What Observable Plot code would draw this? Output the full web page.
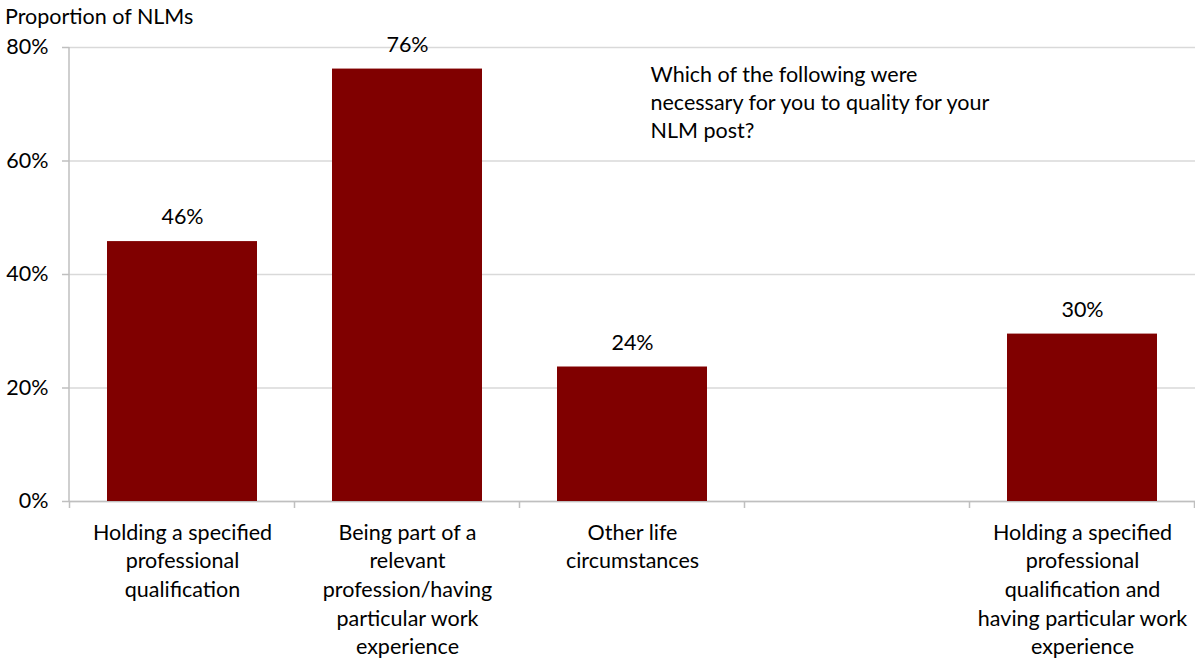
<!DOCTYPE html>
<html>
<head>
<meta charset="utf-8">
<script src="https://cdn.jsdelivr.net/npm/d3@7"></script>
<script src="https://cdn.jsdelivr.net/npm/@observablehq/plot@0.6"></script>
<style>
  html, body { margin: 0; padding: 0; background: #fff; }
  body { width: 1195px; height: 663px; overflow: hidden; font-family: Lato, "Open Sans", sans-serif; }
  #title { font-size: 21.5px; color: #000; height: 22px; line-height: 22px; padding-left: 5px; padding-top: 5px; }
</style>
</head>
<body>
<div id="title">Proportion of NLMs</div>
<div id="chart"></div>
<script>
// Category slots (the fourth slot is an empty gap in the original chart)
const categories = [
  "Holding a specified professional qualification",
  "Being part of a relevant profession/having particular work experience",
  "Other life circumstances",
  "",
  "Holding a specified professional qualification and having particular work experience"
];
// Tick labels as wrapped in the original
const tickLabels = [
  "Holding a specified\nprofessional\nqualification",
  "Being part of a\nrelevant\nprofession/having\nparticular work\nexperience",
  "Other life\ncircumstances",
  "",
  "Holding a specified\nprofessional\nqualification and\nhaving particular work\nexperience"
];
// Bar categories and values (percent of NLMs)
const barCategories = [categories[0], categories[1], categories[2], categories[4]];
const barValues = [45.8, 76.2, 23.7, 29.5];
const yTicks = [0, 20, 40, 60, 80];
const question = "Which of the following were\nnecessary for you to quality for your\nNLM post?";

const data = barCategories.map((c, i) => ({category: c, value: barValues[i]}));
const labelOf = new Map(categories.map((c, i) => [c, tickLabels[i]]));
const FS = 21.5;

// Left axis line and category boundary ticks, drawn from the band scale
function axisLines(index, scales, values, dims) {
  const x = scales.x;
  const step = x.step();
  const bw = x.bandwidth();
  const g = d3.create("svg:g");
  const y0 = dims.height - dims.marginBottom;
  g.append("line")
    .attr("x1", dims.marginLeft).attr("x2", dims.marginLeft)
    .attr("y1", dims.marginTop).attr("y2", y0)
    .attr("stroke", "#bfbfbf").attr("stroke-width", 1.5);
  const positions = categories.map(c => x(c) + bw / 2 - step / 2);
  positions.push(x(categories[categories.length - 1]) + bw / 2 + step / 2);
  for (const px of positions) {
    g.append("line")
      .attr("x1", px).attr("x2", px)
      .attr("y1", y0).attr("y2", y0 + 7)
      .attr("stroke", "#bfbfbf").attr("stroke-width", 1.5);
  }
  return g.node();
}

const chart = Plot.plot({
  width: 1195,
  height: 636,
  marginTop: 20,
  marginLeft: 69,
  marginRight: 0,
  marginBottom: 162,
  style: {fontFamily: "Lato, 'Open Sans', sans-serif", fontSize: FS + "px", color: "#000", background: "#fff"},
  x: {domain: categories, paddingInner: 1/3, paddingOuter: 1/6, axis: null},
  y: {domain: [0, 80], axis: null},
  marks: [
    Plot.ruleY(yTicks, {stroke: "#d9d9d9", strokeWidth: 1.3}),
    Plot.ruleY([0], {stroke: "#bfbfbf", strokeWidth: 1.5}),
    Plot.barY(data, {x: "category", y: "value", fill: "#800000"}),
    Plot.text(data, {x: "category", y: "value", text: d => `${Math.round(d.value)}%`, dy: -24, fontSize: FS, fill: "#000"}),
    Plot.axisY({ticks: yTicks, tickFormat: d => `${d}%`, tickSize: 7, tickPadding: 14, stroke: "#bfbfbf", strokeWidth: 1.5, fontSize: FS, label: null, fill: "#000"}),
    Plot.axisX({tickSize: 0, tickPadding: 18, tickFormat: d => labelOf.get(d), fontSize: FS, lineHeight: 1.33, lineAnchor: "top", label: null, fill: "#000"}),
    Plot.text([question], {x: () => categories[2], y: () => 77.4, textAnchor: "start", lineAnchor: "top", dx: 18, lineHeight: 1.3, fontSize: FS, fill: "#000"}),
    axisLines
  ]
});

document.getElementById("chart").append(chart);
</script>
</body>
</html>
